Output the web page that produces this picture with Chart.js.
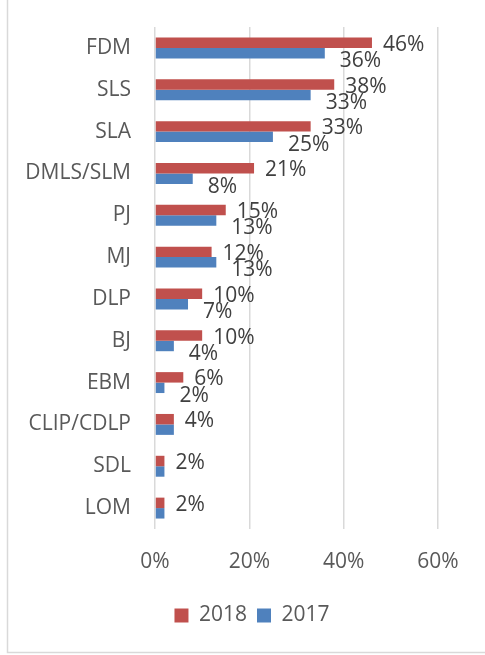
<!DOCTYPE html>
<html><head><meta charset="utf-8">
<script src="https://cdn.jsdelivr.net/npm/chart.js@4/dist/chart.umd.min.js"></script>
<style>html,body{margin:0;padding:0;background:#fff;overflow:hidden}#wrap{position:relative;width:485px;height:655px}</style>
</head><body><div id="wrap"><canvas id="c" width="485" height="655"></canvas></div>
<script>
const categories = ['FDM','SLS','SLA','DMLS/SLM','PJ','MJ','DLP','BJ','EBM','CLIP/CDLP','SDL','LOM'];
const values2018 = [46,38,33,21,15,12,10,10,6,4,2,2];
const values2017 = [36,33,25,8,13,13,7,4,2,4,2,2];
const labels2018 = ['46%','38%','33%','21%','15%','12%','10%','10%','6%','4%','2%','2%'];
const labels2017 = ['36%','33%','25%','8%','13%','13%','7%','4%','2%',null,null,null];
const xTicks = [0,20,40,60];
const seriesNames = ['2018','2017'];

const FONT = 'Open Sans';

const framePlugin = {
  id:'frame',
  afterLayout(chart){ chart.scales.y.left = 0; },
  beforeDraw(chart){
    const ctx = chart.ctx;
    ctx.save();
    ctx.strokeStyle = '#d9d9d9';
    ctx.lineWidth = 1.5;
    ctx.strokeRect(7.5, -5, 520, 657.5);
    ctx.restore();
  }
};

const labelPlugin = {
  id:'barLabels',
  afterDatasetsDraw(chart){
    const ctx = chart.ctx;
    const texts = [labels2018, labels2017];
    const offs = [{dx:11, dy:2}, {dx:15, dy:8}];
    ctx.save();
    ctx.font = '21px "' + FONT + '"';
    ctx.fillStyle = '#404040';
    ctx.textAlign = 'left';
    ctx.textBaseline = 'middle';
    chart.data.datasets.forEach((ds, di) => {
      const meta = chart.getDatasetMeta(di);
      meta.data.forEach((bar, i) => {
        const t = texts[di][i];
        if (t == null) return;
        ctx.fillText(t, bar.x + offs[di].dx, bar.y + offs[di].dy);
      });
    });
    ctx.restore();
  }
};

new Chart(document.getElementById('c'), {
  type:'bar',
  data:{
    labels: categories,
    datasets:[
      {label: seriesNames[0], data: values2018, backgroundColor:'#C0504D', borderWidth:0, categoryPercentage:0.5, barPercentage:1},
      {label: seriesNames[1], data: values2017, backgroundColor:'#4F81BD', borderWidth:0, categoryPercentage:0.5, barPercentage:1}
    ]
  },
  options:{
    responsive:false,
    animation:false,
    devicePixelRatio:1,
    indexAxis:'y',
    layout:{padding:{top:27, right:47, left:66, bottom:19}},
    scales:{
      x:{
        min:0, max:60,
        afterBuildTicks(s){ s.ticks = xTicks.map(v => ({value:v})); },
        ticks:{callback:v => v + '%', color:'#595959', font:{family:FONT, size:21}, padding:20},
        grid:{color:'#d9d9d9', lineWidth:1.5, drawTicks:false},
        border:{display:false},
        afterFit(s){ s.height = 66; s.paddingLeft = 0; s.paddingRight = 0; }
      },
      y:{
        ticks:{color:'#595959', font:{family:FONT, size:21}, padding:24},
        grid:{display:false, drawTicks:false},
        border:{display:false},
        afterFit(s){ s.width = 89; s.paddingTop = 0; s.paddingBottom = 0; }
      }
    },
    plugins:{
      legend:{position:'bottom', labels:{boxWidth:14, boxHeight:14, font:{family:FONT, size:21}, color:'#595959', padding:10}},
      tooltip:{enabled:false}
    }
  },
  plugins:[framePlugin, labelPlugin]
});
</script>
</body></html>
